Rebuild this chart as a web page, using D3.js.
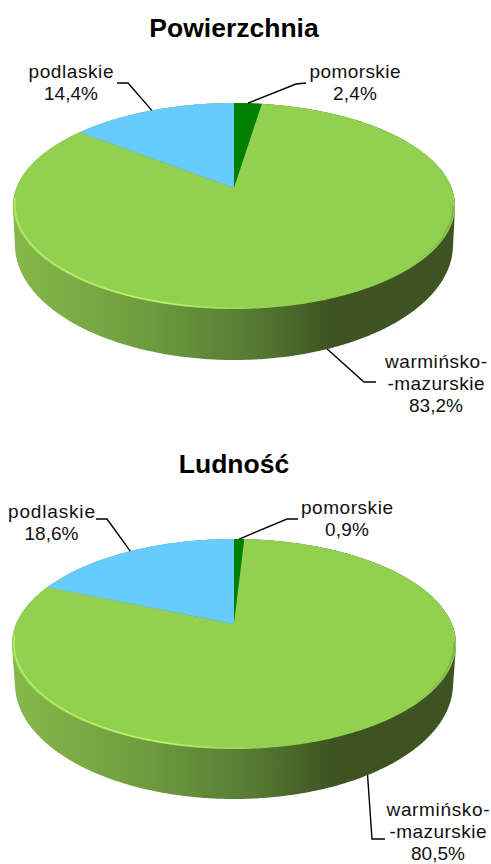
<!DOCTYPE html>
<html>
<head>
<meta charset="utf-8">
<script src="https://cdn.jsdelivr.net/npm/d3@7"></script>
<style>
	html, body { margin: 0; padding: 0; background: #fff; }
	svg { display: block; }
	text { font-family: "Liberation Sans", Arial, sans-serif; fill: #000; text-anchor: middle; }
	.title { font-size: 26.5px; font-weight: bold; }
	.label { font-size: 19px; fill: #111; }
</style>
</head>
<body>
<script>
// values, in drawing order (clockwise from 12 o'clock)
const categories = [ 'pomorskie', 'warmińsko-mazurskie', 'podlaskie' ];
const titles = [ 'Powierzchnia', 'Ludność' ];
const areaShares = [ 2.4, 83.2, 14.4 ];
const populationShares = [ 0.9, 80.5, 18.6 ];

const sliceColors = [ '#008000', '#92d050', '#66ccff' ];

// where each pie sits on the page
const pieLayouts = [
	{
		titleY: 37,
		top: { cx: 234, cy: 206, rx: 221, ry: 103, shift: 18 },
		bottom: { cx: 234, cy: 245, rx: 219, ry: 115, shift: 18 },
		labels: [
			{ x: 355, y: 78, elbow: [ 296, 84 ], end: [ 306, 83 ], widths: [ 91, 44 ] },
			{ x: 436, y: 368, elbow: [ 364, 382 ], end: [ 376, 382 ], widths: [ 102, 97, 54 ] },
			{ x: 71, y: 78, elbow: [ 128, 83 ], end: [ 117, 83 ], widths: [ 85, 54 ] },
		],
	},
	{
		titleY: 473,
		top: { cx: 234, cy: 644, rx: 222, ry: 105, shift: 20 },
		bottom: { cx: 234, cy: 684, rx: 219, ry: 115, shift: 20 },
		labels: [
			{ x: 347, y: 514, elbow: [ 287, 519 ], end: [ 298, 519 ], widths: [ 92, 44 ] },
			{ x: 438, y: 816, elbow: [ 372, 839 ], end: [ 385, 839 ], widths: [ 103, 97, 54 ] },
			{ x: 51.5, y: 518, elbow: [ 107, 519 ], end: [ 96, 519 ], widths: [ 87, 54 ] },
		],
	},
];

const width = 491;
const height = 864;

const locale = d3.formatLocale( { decimal: ',', thousands: ' ', grouping: [ 3 ], currency: [ '', '' ] } );
const formatShare = ( value ) => locale.format( '.1f' )( value ) + '%';

// label lines, long name is broken with the Polish double hyphen
const labelLines = ( name, value ) => {
	const parts = name.split( '-' );
	const lines = parts.length > 1 ? [ parts[ 0 ] + '-', '-' + parts[ 1 ] ] : [ name ];
	return [ ...lines, formatShare( value ) ];
};

// tilted disc: angle is clockwise from 12 o'clock, the disc centre lands above the ellipse centre
const project = ( frame, angle ) => {
	const c = frame.shift / frame.ry;
	const u = Math.sin( angle );
	const v = Math.cos( angle );
	const w = 1 + ( c * v );
	return [
		frame.cx + ( frame.rx * Math.sqrt( 1 - ( c * c ) ) * u / w ),
		frame.cy - ( ( frame.shift + ( frame.ry * v ) ) / w ),
	];
};

const projectCentre = ( frame ) => [ frame.cx, frame.cy - frame.shift ];

const arcPoints = ( frame, from, to ) => {
	const steps = Math.max( 2, Math.ceil( Math.abs( to - from ) / 0.01 ) );
	return d3.range( steps + 1 ).map( ( i ) => project( frame, from + ( ( to - from ) * i / steps ) ) );
};

const pie = d3.pie().sort( null ).value( ( d ) => d );
const line = d3.line();

const svg = d3.select( 'body' ).append( 'svg' )
	.attr( 'width', width )
	.attr( 'height', height );

const defs = svg.append( 'defs' );

const addGradient = ( id, stops ) => {
	const gradient = defs.append( 'linearGradient' )
		.attr( 'id', id )
		.attr( 'gradientUnits', 'userSpaceOnUse' )
		.attr( 'x1', 12 ).attr( 'x2', 456 )
		.attr( 'y1', 0 ).attr( 'y2', 0 );
	stops.forEach( ( [ offset, color, opacity ] ) => {
		gradient.append( 'stop' )
			.attr( 'offset', offset )
			.attr( 'stop-color', color )
			.attr( 'stop-opacity', opacity );
	} );
};

addGradient( 'side', [
	[ 0, '#86b84a', 1 ],
	[ 0.3, '#6f9c40', 1 ],
	[ 0.55, '#557932', 1 ],
	[ 0.72, '#3d5422', 1 ],
	[ 1, '#3d5422', 1 ],
] );
addGradient( 'rim', [
	[ 0, '#b9f56f', 0.8 ],
	[ 0.35, '#b9f56f', 1 ],
	[ 0.6, '#a9e863', 0 ],
	[ 0.9, '#6f9e3c', 0 ],
	[ 1, '#5f8a34', 0.5 ],
] );

defs.append( 'filter' )
	.attr( 'id', 'soft' )
	.append( 'feGaussianBlur' )
	.attr( 'stdDeviation', 0.7 );

const drawPie = ( shares, title, layout ) => {
	const g = svg.append( 'g' );
	const arcs = pie( shares );

	g.append( 'text' )
		.attr( 'class', 'title' )
		.attr( 'x', layout.top.cx )
		.attr( 'y', layout.titleY )
		.text( title );

	// side wall is the hull of both rims
	const rimPoints = [
		...arcPoints( layout.top, 0, 2 * Math.PI ),
		...arcPoints( layout.bottom, 0, 2 * Math.PI ),
	];
	g.append( 'path' )
		.attr( 'd', line( d3.polygonHull( rimPoints ) ) + 'Z' )
		.attr( 'fill', 'url(#side)' );

	g.selectAll( 'path.slice' )
		.data( arcs )
		.enter()
		.append( 'path' )
		.attr( 'class', 'slice' )
		.attr( 'd', ( d ) => line( [
			projectCentre( layout.top ),
			...arcPoints( layout.top, d.startAngle, d.endAngle ),
		] ) + 'Z' )
		.attr( 'fill', ( d, i ) => sliceColors[ i ] );

	// bevel along the front edge of the disc
	g.append( 'path' )
		.attr( 'd', line( arcPoints( layout.top, 1.75, 4.6 ).map( ( [ x, y ] ) => [
			x + ( ( layout.top.cx - x ) * 0.008 ),
			y - 1,
		] ) ) )
		.attr( 'fill', 'none' )
		.attr( 'stroke', 'url(#rim)' )
		.attr( 'stroke-width', 1.6 )
		.attr( 'filter', 'url(#soft)' );

	// leaders and labels, the front slice is labelled on the lower rim
	arcs.forEach( ( d, i ) => {
		const spot = layout.labels[ i ];
		const mid = ( d.startAngle + d.endAngle ) / 2;
		const isFront = Math.cos( mid ) < 0;
		const anchor = project( isFront ? layout.bottom : layout.top, mid );

		g.append( 'path' )
			.attr( 'd', line( [ anchor, spot.elbow, spot.end ] ) )
			.attr( 'fill', 'none' )
			.attr( 'stroke', '#000' )
			.attr( 'stroke-width', 1.4 );

		labelLines( categories[ i ], d.data ).forEach( ( text, row ) => {
			g.append( 'text' )
				.attr( 'class', 'label' )
				.attr( 'x', spot.x )
				.attr( 'y', spot.y + ( row * 22 ) )
				.attr( 'textLength', spot.widths[ row ] )
				.attr( 'lengthAdjust', 'spacing' )
				.text( text );
		} );
	} );
};

drawPie( areaShares, titles[ 0 ], pieLayouts[ 0 ] );
drawPie( populationShares, titles[ 1 ], pieLayouts[ 1 ] );
</script>
</body>
</html>
